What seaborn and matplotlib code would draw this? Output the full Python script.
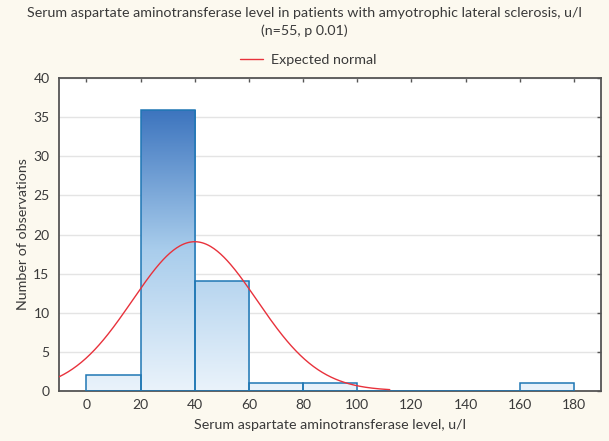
import numpy as np
import pandas as pd
import seaborn as sns
import matplotlib.pyplot as plt
from matplotlib.colors import LinearSegmentedColormap

# histogram data
bin_edges = [0, 20, 40, 60, 80, 100, 120, 140, 160, 180]
counts = [2, 36, 14, 1, 1, 0, 0, 0, 1]
n_obs = 55
# expected normal (peak near 40, ~1.9 at x=-10)
norm_mean = 40.0
norm_sd = 23.0
curve_range = (-10, 112)

title = ("Serum aspartate aminotransferase level in patients with amyotrophic lateral sclerosis, u/l\n"
         "(n=55, p 0.01)")
xlabel = "Serum aspartate aminotransferase level, u/l"
ylabel = "Number of observations"
xticks = [0, 20, 40, 60, 80, 100, 120, 140, 160, 180]
yticks = [0, 5, 10, 15, 20, 25, 30, 35, 40]

sns.set_style("white")
plt.rcParams['font.family'] = ['Lato', 'DejaVu Sans']
txt = '#3a3a3a'

fig = plt.figure(figsize=(6.09, 4.41), dpi=100, facecolor='#fcf9ef')
ax = fig.add_axes([0.0974, 0.114, 0.8895, 0.7084])
ax.set_facecolor('white')

edges = np.array(bin_edges, dtype=float)
df = pd.DataFrame({'center': (edges[:-1] + edges[1:]) / 2, 'count': counts})
sns.histplot(data=df, x='center', weights='count', bins=bin_edges, ax=ax,
             fill=False, edgecolor='#3c62c0', linewidth=1.1, zorder=3)

# vertical gradient fill inside each bar
cmap = LinearSegmentedColormap.from_list('grad', ['#eaf3fb', '#a9cdec', '#3c74be'])
grad = np.linspace(0, 1, 256).reshape(-1, 1)
top = max(counts)
for p in list(ax.patches):
    h = p.get_height()
    if h <= 0:
        continue
    x0 = p.get_x()
    im = ax.imshow(grad, cmap=cmap, origin='lower', aspect='auto',
                   extent=(x0, x0 + p.get_width(), 0, top), zorder=2)
    im.set_clip_path(p)

# expected normal curve scaled to counts
xs = np.linspace(curve_range[0], curve_range[1], 300)
binw = edges[1] - edges[0]
ys = n_obs * binw * np.exp(-0.5 * ((xs - norm_mean) / norm_sd) ** 2) / (norm_sd * np.sqrt(2 * np.pi))
sns.lineplot(x=xs, y=ys, ax=ax, color='#e8323c', linewidth=1.0, zorder=4,
             label='Expected normal', sort=False)

ax.set_xlim(-10, 190)
ax.set_ylim(0, 40)
ax.set_xticks(xticks)
ax.set_yticks(yticks)
ax.yaxis.grid(True, color='#e4e4e4', linewidth=1.0)
ax.set_axisbelow(True)
for s in ax.spines.values():
    s.set_color('#555555')
    s.set_linewidth(1.3)
ax.tick_params(direction='in', length=3, width=1, color='#555555',
               top=True, right=True, labelsize=10, labelcolor=txt, pad=7)
ax.tick_params(axis='x', pad=6)

ax.set_xlabel(xlabel, fontsize=10.3, color=txt, labelpad=6)
ax.set_ylabel(ylabel, fontsize=10.3, color=txt, labelpad=3)
fig.suptitle(title, fontsize=10.3, color=txt, y=0.983, linespacing=1.5)

leg = ax.legend(loc='center', bbox_to_anchor=(0.459, 1.058), frameon=False,
                fontsize=10.3, handlelength=1.6, handletextpad=0.55)
for t in leg.get_texts():
    t.set_color(txt)

fig.savefig('out.png', dpi=100, facecolor=fig.get_facecolor())
